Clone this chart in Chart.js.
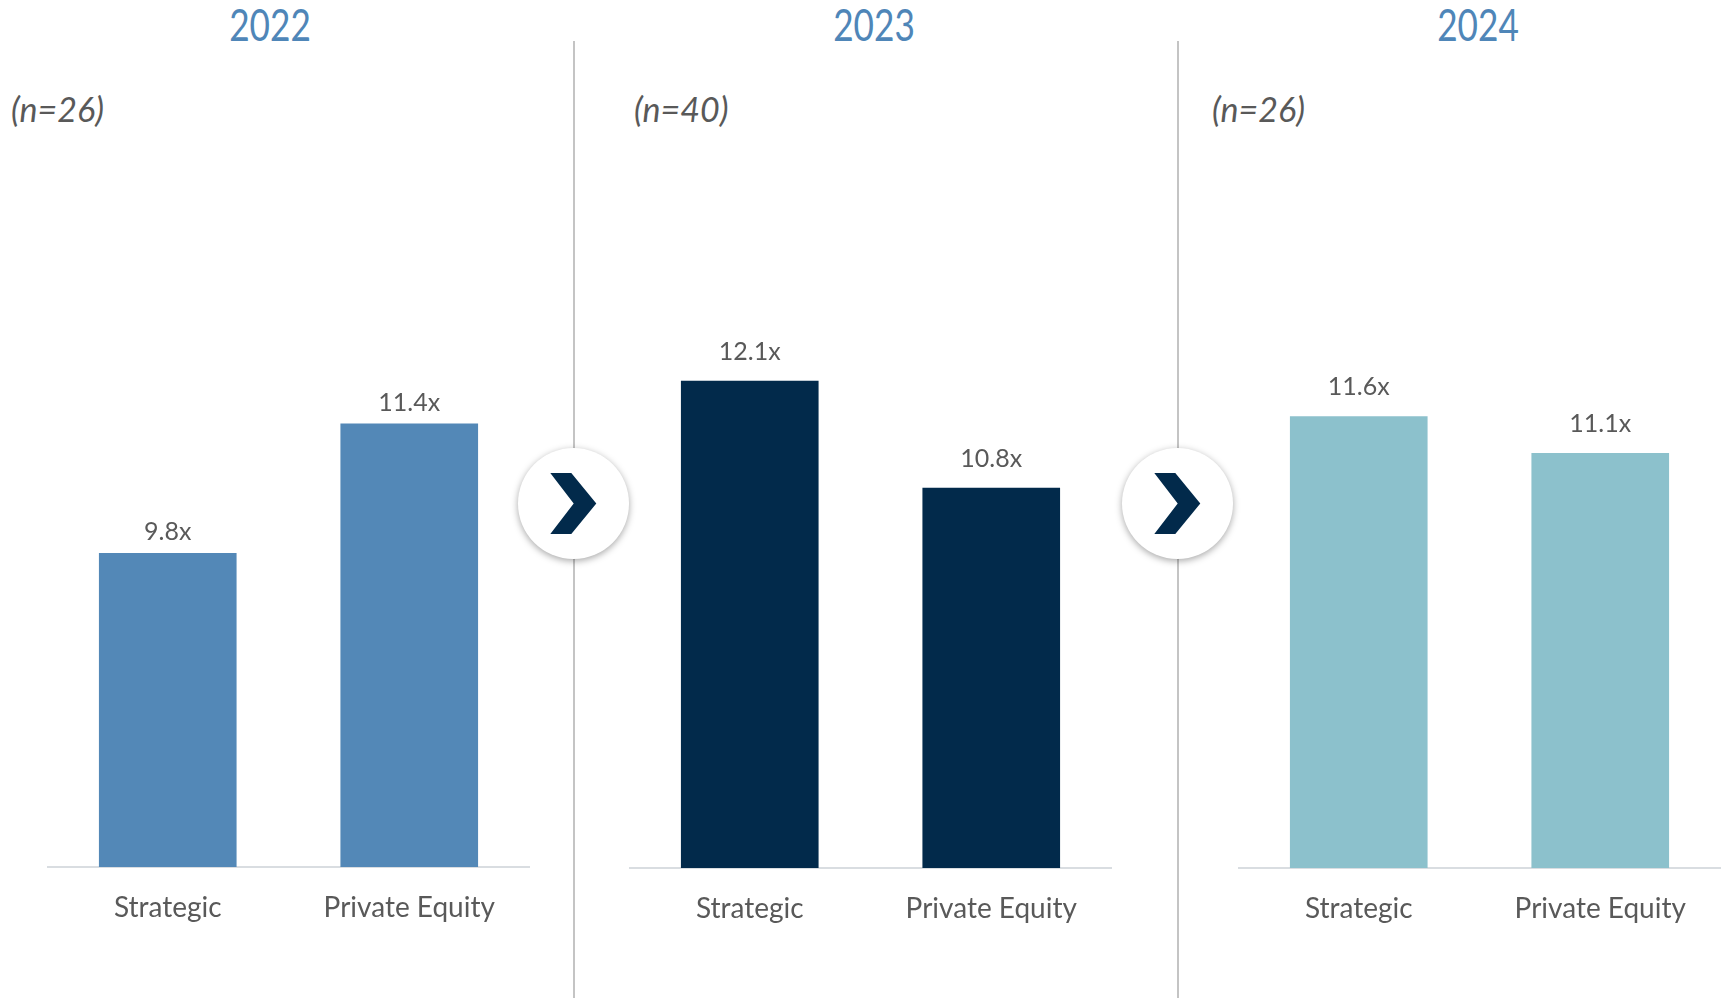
<!DOCTYPE html>
<html>
<head>
<meta charset="utf-8">
<script src="https://cdn.jsdelivr.net/npm/chart.js@4/dist/chart.umd.min.js"></script>
<style>
  html, body { margin: 0; padding: 0; background: #ffffff; }
  #wrap { position: relative; width: 1723px; height: 998px; overflow: hidden; font-family: Lato, "Noto Sans", sans-serif; }
  .title { position: absolute; top: 0; width: 300px; text-align: center; color: #4f86b8; font-size: 44px; line-height: 48px; transform: scaleX(0.8); }
  .nlab { position: absolute; top: 89px; font-style: italic; font-size: 34px; line-height: 40px; color: #595959; white-space: nowrap; }
  .divider { position: absolute; top: 41px; bottom: 0; width: 2px; background: #c4c4c4; }
  .circle { position: absolute; width: 111px; height: 111px; border-radius: 50%; background: #fff; box-shadow: 0 2px 7px rgba(0,0,0,0.35); }
  .circle svg { position: absolute; left: 0; top: 0; }
  canvas { position: absolute; }
</style>
</head>
<body>
<div id="wrap">
  <div class="divider" style="left:573px"></div>
  <div class="divider" style="left:1177px"></div>
  <canvas id="c0" width="483" height="790" style="left:47px;top:137px"></canvas>
  <canvas id="c1" width="483" height="790" style="left:629px;top:138px"></canvas>
  <canvas id="c2" width="483" height="790" style="left:1238px;top:138px"></canvas>
  <div class="circle" style="left:518px;top:448px"><svg width="111" height="111"><polygon points="32.3,25 53.3,25 78.3,55.5 53.3,86 32.3,86 55.7,55.5" fill="#022a4b"/></svg></div>
  <div class="circle" style="left:1122px;top:448px"><svg width="111" height="111"><polygon points="32.3,25 53.3,25 78.3,55.5 53.3,86 32.3,86 55.7,55.5" fill="#022a4b"/></svg></div>
</div>
<script>
// ---- data ----
const categories = ['Strategic', 'Private Equity'];
const years = ['2022', '2023', '2024'];
const sampleSizes = ['(n=26)', '(n=40)', '(n=26)'];
const values2022 = [9.8, 11.4];
const values2023 = [12.1, 10.8];
const values2024 = [11.6, 11.1];
const yMin = [5.92, 6.18, 5.45];
const yMax = [14.94, 15.05, 15.39];

// ---- style ----
const panelColors = ['#5388b7', '#022a4b', '#8cc1cc'];
const titleCenters = [270, 874, 1478];
const nLefts = [11, 634, 1212];
const labelOffsets = [21, 29, 29];
const seriesByPanel = [values2022, values2023, values2024];

const wrap = document.getElementById('wrap');
years.forEach((y, i) => {
  const t = document.createElement('div');
  t.className = 'title';
  t.textContent = y;
  t.style.left = (titleCenters[i] - 150) + 'px';
  wrap.appendChild(t);
  const n = document.createElement('div');
  n.className = 'nlab';
  n.textContent = sampleSizes[i];
  n.style.left = nLefts[i] + 'px';
  wrap.appendChild(n);
});

const valueLabels = {
  id: 'valueLabels',
  afterDatasetsDraw(chart, args, opts) {
    const ctx = chart.ctx;
    ctx.save();
    ctx.font = '25px Lato, "Noto Sans", sans-serif';
    ctx.fillStyle = '#595959';
    ctx.textAlign = 'center';
    ctx.textBaseline = 'middle';
    chart.data.datasets.forEach((ds, di) => {
      chart.getDatasetMeta(di).data.forEach((bar, j) => {
        ctx.fillText(ds.data[j].toFixed(1) + 'x', bar.x, bar.y - opts.offset);
      });
    });
    ctx.restore();
  }
};

seriesByPanel.forEach((vals, i) => {
  new Chart(document.getElementById('c' + i), {
    type: 'bar',
    data: {
      labels: categories,
      datasets: [{
        data: vals,
        backgroundColor: panelColors[i],
        borderWidth: 0,
        barPercentage: 0.57,
        categoryPercentage: 1.0
      }]
    },
    options: {
      responsive: false,
      animation: false,
      events: [],
      layout: { padding: 0 },
      plugins: {
        legend: { display: false },
        tooltip: { enabled: false },
        title: { display: false },
        valueLabels: { offset: labelOffsets[i] }
      },
      scales: {
        x: {
          grid: { display: false, drawTicks: false },
          border: { display: true, color: '#d9dde1', width: 2 },
          ticks: {
            color: '#595959',
            padding: 24,
            font: { family: 'Lato, "Noto Sans", sans-serif', size: 28 }
          },
          afterFit(scale) { scale.height = 60; }
        },
        y: {
          display: false,
          min: yMin[i],
          max: yMax[i]
        }
      }
    },
    plugins: [valueLabels]
  });
});
</script>
</body>
</html>
